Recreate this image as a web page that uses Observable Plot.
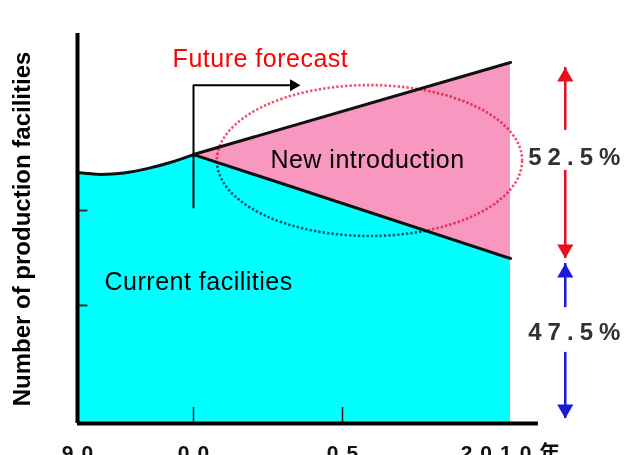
<!DOCTYPE html>
<html><head><meta charset="utf-8">
<script src="https://cdn.jsdelivr.net/npm/d3@7"></script>
<script src="https://cdn.jsdelivr.net/npm/@observablehq/plot@0.6"></script>
<style>
body{margin:0;background:#fff;}
</style></head><body><div id="chart"></div>
<script>
// ---- data ----
const tickYears = [1990, 2000, 2005, 2010];
const tickLabels = ["90", "00", "05", "2010年"];
const innerXTicks = [2000, 2005];
const innerYTicks = [32.7, 59.0];

const histYears = [1990, 1992, 1994, 1996, 1998, 2000];
const histCurrent = [69.5, 69.0, 69.4, 70.6, 72.3, 74.5];

const forecastYears = [2000, 2010];
const forecastCurrent = [74.5, 45.7];
const forecastTotal = [74.5, 100];

const annotTexts = ["Future forecast", "New introduction", "Current facilities"];
const annotX = [1998.2, 2002.58, 1992.33];
const annotY = [101.0, 73.1, 39.1];
const annotColors = ["#ff0000", "#000000", "#000000"];

const yLabel = "Number of production facilities";

const forecastArrowX = [2000, 2000, 2003.4];
const forecastArrowY = [59.8, 93.7, 93.7];
const forecastArrowTip = [2003.59, 93.7];

const shareX = 2011.63;
const shareLabels = ["52.5%", "47.5%"];
const shareLabelY = [73.7, 25.2];
const shareColors = ["#e8101c", "#1a1ad8"];
const segTop = [98.6, 70.1, 44.3, 19.7];
const segBottom = [81.2, 45.7, 32.1, 1.4];
const segColor = ["#e8101c", "#e8101c", "#1a1ad8", "#1a1ad8"];
const tipUpY = [98.6, 44.3];
const tipDownY = [45.7, 1.4];

// ellipse annotation (data extent)
const ellipseX = [2000.8, 2010.36];
const ellipseY = [51.8, 93.6];

const axisTop = 108;
const baselineEnd = 2010.83;

const font = "'Liberation Sans', Arial, 'Noto Sans CJK JP', sans-serif";

const hist = histYears.map((x, i) => ({x, y: histCurrent[i]}));
const fc = forecastYears.map((x, i) => ({x, cur: forecastCurrent[i], tot: forecastTotal[i]}));
const annots = annotTexts.map((t, i) => ({t, x: annotX[i], y: annotY[i], c: annotColors[i]}));
const segs = segTop.map((t, i) => ({t, b: segBottom[i], c: segColor[i]}));
const fa = forecastArrowX.map((x, i) => ({x, y: forecastArrowY[i]}));

const ellipseMark = (index, scales) => {
  const x0 = scales.x(ellipseX[0]), x1 = scales.x(ellipseX[1]);
  const y0 = scales.y(ellipseY[0]), y1 = scales.y(ellipseY[1]);
  const e = document.createElementNS("http://www.w3.org/2000/svg", "ellipse");
  e.setAttribute("cx", (x0 + x1) / 2);
  e.setAttribute("cy", (y0 + y1) / 2);
  e.setAttribute("rx", Math.abs(x1 - x0) / 2);
  e.setAttribute("ry", Math.abs(y1 - y0) / 2);
  e.setAttribute("fill", "none");
  e.setAttribute("stroke", "#e0203e");
  e.setAttribute("stroke-width", 2.6);
  e.setAttribute("stroke-dasharray", "2.4 2");
  e.setAttribute("opacity", 0.75);
  e.style.mixBlendMode = "multiply";
  return e;
};

const chart = Plot.plot({
  width: 630,
  height: 455,
  marginLeft: 77, marginRight: 120, marginTop: 62, marginBottom: 32,
  style: {background: "#fff", fontFamily: font, overflow: "hidden"},
  x: {type: "linear", domain: tickYears, range: [77, 193, 342, 510], axis: null},
  y: {type: "linear", domain: [0, 100], range: [423, 62], axis: null},
  color: {type: "identity"},
  marks: [
    Plot.areaY(hist, {x: "x", y1: 0, y2: "y", fill: "#00ffff", curve: "monotone-x"}),
    Plot.areaY(fc, {x: "x", y1: 0, y2: "cur", fill: "#00ffff"}),
    Plot.areaY(fc, {x: "x", y1: "cur", y2: "tot", fill: "#f897bf"}),
    ellipseMark,
    Plot.line(hist, {x: "x", y: "y", stroke: "#111", strokeWidth: 3, curve: "monotone-x"}),
    Plot.line(fc, {x: "x", y: "cur", stroke: "#111", strokeWidth: 3}),
    Plot.line(fc, {x: "x", y: "tot", stroke: "#111", strokeWidth: 3}),
    Plot.ruleX(innerXTicks, {x: d => d, y1: 0, y2: 4.4, stroke: "#222", strokeWidth: 1.5}),
    Plot.ruleY(innerYTicks, {y: d => d, x1: 1990, x2: 1990.9, stroke: "#333", strokeWidth: 2}),
    Plot.ruleX([1990], {y1: 0, y2: axisTop, stroke: "#000", strokeWidth: 4}),
    Plot.ruleY([0], {x1: 1990, x2: baselineEnd, stroke: "#000", strokeWidth: 4}),
    Plot.line(fa, {x: "x", y: "y", stroke: "#000", strokeWidth: 2}),
    Plot.dot([forecastArrowTip], {x: d => d[0], y: d => d[1], symbol: "triangle", r: 4.5, rotate: 90, dx: -7, fill: "#000", stroke: null}),
    Plot.ruleX(segs, {x: shareX, y1: "t", y2: "b", stroke: "c", strokeWidth: 2.5}),
    Plot.dot(tipUpY, {x: shareX, y: d => d, symbol: "triangle", r: 6, dy: 9.3, fill: (d, i) => shareColors[i], stroke: null}),
    Plot.dot(tipDownY, {x: shareX, y: d => d, symbol: "triangle", r: 6, rotate: 180, dy: -9.3, fill: (d, i) => shareColors[i], stroke: null}),
    Plot.text(shareLabels, {x: shareX, y: (d, i) => shareLabelY[i], text: d => d, textAnchor: "start", dx: -37, fontSize: 24, fontWeight: "bold", fill: "#2d3530", fontFamily: font}),
    Plot.text(annots, {x: "x", y: "y", text: "t", fill: "c", textAnchor: "start", fontSize: 25, fontFamily: font}),
    Plot.text(tickLabels, {x: (d, i) => tickYears[i], y: 0, text: d => d, textAnchor: "middle", lineAnchor: "top", dy: 22, dx: 4, fontSize: 21, fontWeight: "bold", fill: "#111", fontFamily: font}),
    Plot.text([yLabel], {frameAnchor: "left", text: d => d, rotate: -90, textAnchor: "middle", lineAnchor: "middle", dx: -55, dy: -14, fontSize: 24, fontWeight: "bold", fill: "#000", fontFamily: font})
  ]
});
// letter spacing (style only)
chart.querySelectorAll("text").forEach(t => {
  const s = t.textContent;
  if (shareLabels.includes(s)) t.style.letterSpacing = "6px";
  else if (tickLabels.includes(s)) t.style.letterSpacing = "8px";
  else if (annotTexts.includes(s)) t.style.letterSpacing = "0.5px";
});
document.getElementById("chart").appendChild(chart);
</script></body></html>
